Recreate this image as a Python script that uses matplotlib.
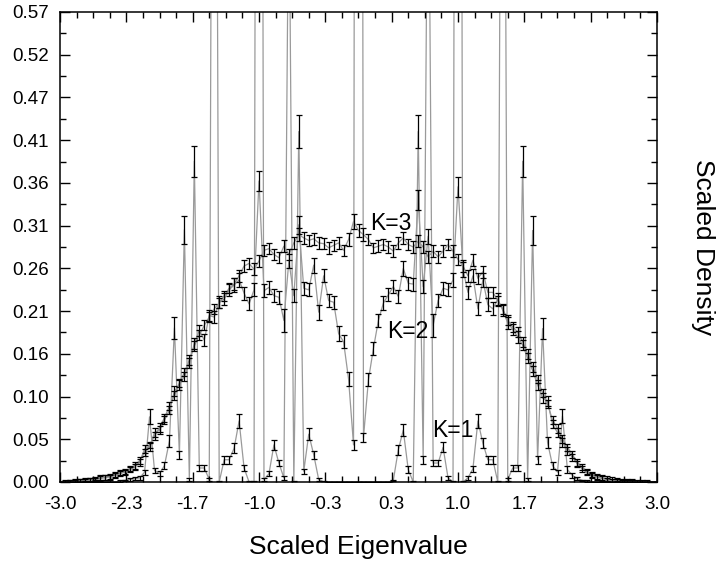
import matplotlib
matplotlib.use("Agg")
import matplotlib.pyplot as plt
import numpy as np
from matplotlib.ticker import AutoMinorLocator

plt.rcParams["font.family"] = ["Liberation Sans", "DejaVu Sans"]

# histogram bin centres, -3.00 ... 3.00 in steps of 0.05
bin_step = 0.05
x_bins = np.round(np.arange(-60, 61) * bin_step, 2)

# K=3 : smooth density
k3_density = [
    0.000, 0.001, 0.001, 0.002, 0.002, 0.003, 0.003, 0.004, 0.005, 0.006,
    0.007, 0.009, 0.011, 0.013, 0.016, 0.020, 0.026, 0.036, 0.045, 0.056,
    0.066, 0.078, 0.092, 0.105, 0.120, 0.133, 0.148, 0.165, 0.178, 0.190,
    0.200, 0.210, 0.217, 0.226, 0.235, 0.240, 0.250, 0.262, 0.265, 0.258,
    0.268, 0.281, 0.283, 0.276, 0.272, 0.286, 0.276, 0.290, 0.300, 0.296,
    0.293, 0.295, 0.290, 0.289, 0.284, 0.287, 0.290, 0.281, 0.294, 0.316,
    0.305, 0.300, 0.294, 0.284, 0.286, 0.288, 0.285, 0.280, 0.290, 0.296,
    0.288, 0.285, 0.292, 0.285, 0.273, 0.280, 0.273, 0.280, 0.288, 0.280,
    0.270, 0.262, 0.250, 0.269, 0.247, 0.255, 0.230, 0.230, 0.220, 0.210,
    0.196, 0.188, 0.182, 0.170, 0.155, 0.140, 0.125, 0.108, 0.095, 0.075,
    0.065, 0.052, 0.042, 0.033, 0.024, 0.018, 0.013, 0.009, 0.007, 0.005,
    0.004, 0.003, 0.003, 0.002, 0.002, 0.002, 0.001, 0.001, 0.001, 0.000,
    0.000,
]
k3_err_milli = [
    0, 1, 1, 2, 2, 2, 2, 2, 3, 3,
    3, 3, 3, 3, 3, 4, 4, 4, 4, 5,
    5, 5, 5, 5, 5, 5, 6, 6, 6, 6,
    6, 6, 6, 6, 6, 7, 7, 7, 7, 7,
    7, 7, 7, 7, 7, 7, 7, 7, 8, 7,
    7, 7, 7, 7, 7, 7, 7, 7, 8, 9,
    8, 8, 7, 6, 7, 7, 7, 7, 7, 7,
    7, 7, 7, 7, 7, 7, 7, 7, 7, 7,
    7, 7, 7, 7, 7, 7, 7, 7, 6, 6,
    6, 6, 6, 6, 6, 6, 5, 5, 5, 5,
    5, 5, 4, 4, 4, 4, 3, 3, 3, 3,
    3, 3, 2, 2, 2, 2, 2, 1, 1, 0,
    0,
]

# K=2 : dip at the centre with a sharp peak at zero
k2_density = [
    0.000, 0.000, 0.001, 0.001, 0.002, 0.002, 0.003, 0.003, 0.004, 0.005,
    0.006, 0.008, 0.010, 0.012, 0.015, 0.018, 0.024, 0.040, 0.042, 0.060,
    0.063, 0.075, 0.087, 0.110, 0.118, 0.128, 0.144, 0.168, 0.184, 0.172,
    0.202, 0.200, 0.218, 0.222, 0.233, 0.239, 0.245, 0.229, 0.216, 0.233,
    0.365, 0.232, 0.236, 0.226, 0.224, 0.196, 0.268, 0.226, 0.312, 0.235,
    0.233, 0.263, 0.206, 0.250, 0.220, 0.218, 0.180, 0.170, 0.125, 0.045,
    4.000, 0.054, 0.124, 0.162, 0.196, 0.217, 0.227, 0.237, 0.225, 0.259,
    0.241, 0.240, 0.342, 0.237, 0.298, 0.190, 0.220, 0.235, 0.233, 0.245,
    0.358, 0.258, 0.230, 0.250, 0.210, 0.245, 0.215, 0.210, 0.222, 0.208,
    0.193, 0.185, 0.176, 0.166, 0.150, 0.135, 0.118, 0.102, 0.098, 0.070,
    0.060, 0.048, 0.038, 0.030, 0.022, 0.016, 0.011, 0.008, 0.006, 0.004,
    0.003, 0.002, 0.002, 0.001, 0.001, 0.001, 0.000, 0.000, 0.000, 0.000,
    0.000,
]
k2_err_milli = [
    0, 0, 1, 1, 2, 2, 2, 2, 3, 3,
    3, 3, 3, 3, 3, 4, 4, 5, 5, 5,
    5, 5, 5, 6, 6, 6, 6, 7, 7, 7,
    7, 7, 7, 7, 7, 8, 8, 8, 8, 8,
    12, 8, 8, 8, 8, 14, 8, 8, 11, 8,
    8, 9, 9, 8, 8, 8, 9, 8, 8, 6,
    30, 6, 8, 8, 8, 8, 8, 8, 8, 9,
    8, 8, 12, 8, 9, 14, 8, 8, 8, 9,
    12, 9, 8, 8, 8, 8, 8, 8, 7, 7,
    7, 7, 7, 6, 6, 6, 6, 6, 6, 5,
    5, 5, 5, 4, 4, 4, 3, 3, 3, 3,
    2, 2, 2, 1, 1, 1, 0, 0, 0, 0,
    0,
]

# K=1 : nearly empty except for isolated sharp peaks
k1_density = [
    0.000, 0.000, 0.000, 0.000, 0.000, 0.000, 0.000, 0.000, 0.000, 0.000,
    0.000, 0.000, 0.001, 0.002, 0.003, 0.004, 0.005, 0.012, 0.079, 0.014,
    0.010, 0.020, 0.050, 0.187, 0.033, 0.306, 0.003, 0.389, 0.017, 0.017,
    0.003, 1.700, 0.000, 0.027, 0.027, 0.041, 0.074, 0.017, 0.000, 0.000,
    2.850, 0.003, 0.010, 0.045, 0.023, 0.005, 0.760, 0.000, 0.425, 0.013,
    0.058, 0.033, 0.003, 0.000, 0.000, 0.000, 0.000, 0.000, 0.000, 0.000,
    0.000, 0.000, 0.000, 0.000, 0.000, 0.000, 0.000, 0.002, 0.039, 0.063,
    0.015, 0.000, 0.425, 0.027, 0.860, 0.023, 0.023, 0.042, 0.005, 0.000,
    3.000, 0.000, 0.005, 0.016, 0.074, 0.047, 0.027, 0.027, 0.000, 1.450,
    0.003, 0.017, 0.017, 0.389, 0.003, 0.305, 0.027, 0.186, 0.048, 0.020,
    0.012, 0.080, 0.015, 0.008, 0.004, 0.002, 0.001, 0.000, 0.000, 0.000,
    0.000, 0.000, 0.000, 0.000, 0.000, 0.000, 0.000, 0.000, 0.000, 0.000,
    0.000,
]
k1_err_milli = [
    0, 0, 0, 0, 0, 0, 0, 0, 0, 0,
    0, 0, 1, 1, 2, 2, 2, 3, 9, 3,
    3, 4, 7, 13, 5, 17, 2, 19, 4, 4,
    2, 40, 1, 5, 5, 6, 8, 4, 1, 1,
    50, 2, 3, 6, 4, 2, 26, 1, 20, 3,
    7, 5, 2, 1, 0, 0, 0, 0, 0, 0,
    0, 0, 0, 0, 0, 0, 0, 1, 6, 7,
    4, 1, 20, 5, 28, 4, 4, 6, 2, 1,
    50, 1, 2, 4, 8, 6, 5, 5, 1, 36,
    2, 4, 4, 19, 2, 17, 5, 13, 7, 4,
    3, 9, 4, 3, 2, 1, 1, 0, 0, 0,
    0, 0, 0, 0, 0, 0, 0, 0, 0, 0,
    0,
]

series_labels = ["K=1", "K=2", "K=3"]
label_pos = [(0.735, 0.062), (0.29, 0.182), (0.116, 0.314)]

x_ticks = np.linspace(-3.0, 3.0, 10)
y_ticks = np.linspace(0.0, 0.57, 12)

fig = plt.figure(figsize=(7.21, 5.64), dpi=100)
ax = fig.add_axes([60 / 721, 1 - 482 / 564, 597 / 721, 470 / 564])

series = [
    (k1_density, k1_err_milli),
    (k2_density, k2_err_milli),
    (k3_density, k3_err_milli),
]
for dens, err in series:
    y = np.asarray(dens)
    e = np.asarray(err) / 1000.0
    ax.plot(x_bins, y, color="#9a9a9a", lw=0.9, zorder=1)
    ax.errorbar(x_bins, y, yerr=e, fmt="none", ecolor="black",
                elinewidth=0.9, capsize=2.0, capthick=0.9, zorder=2)

for text, (tx, ty) in zip(series_labels, label_pos):
    ax.text(tx, ty, text, fontsize=16.5, ha="left", va="center", zorder=3)

ax.set_xlim(-3.0, 3.0)
ax.set_ylim(0.0, 0.57)
ax.set_xticks(x_ticks)
ax.set_xticklabels([f"{v:.1f}" for v in x_ticks])
ax.set_yticks(y_ticks)
ax.set_yticklabels([f"{v:.2f}" for v in y_ticks])
ax.xaxis.set_minor_locator(AutoMinorLocator(4))
ax.yaxis.set_minor_locator(AutoMinorLocator(2))
ax.tick_params(which="both", direction="in", top=True, right=True,
               labelsize=13.5, width=1.0)
ax.tick_params(which="major", length=7)
ax.tick_params(which="minor", length=4)
ax.tick_params(axis="x", pad=10)
ax.tick_params(axis="y", pad=8)
for sp in ax.spines.values():
    sp.set_linewidth(1.1)

fig.text(358.5 / 721, 1 - 547 / 564, "Scaled Eigenvalue", fontsize=19,
         ha="center", va="center")
fig.text(703 / 721, 1 - 247 / 564, "Scaled Density", fontsize=19,
         ha="center", va="center", rotation=-90)

fig.savefig("out.png", dpi=100)
